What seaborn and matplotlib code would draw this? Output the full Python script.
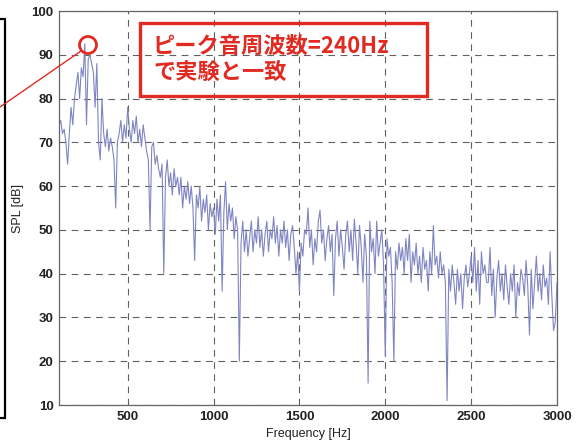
import numpy as np
import pandas as pd
import seaborn as sns
import matplotlib
matplotlib.use("Agg")
import matplotlib.pyplot as plt
from matplotlib.patches import Rectangle, Ellipse
from matplotlib.lines import Line2D

# ---- data (10 Hz steps from 100 to 3000 Hz) ----
spl_100 = [74, 75, 72, 73, 70, 65, 72, 78, 74, 80]
spl_200 = [83, 86, 80, 87, 85, 92.5, 74, 89, 90, 88]
spl_300 = [86, 78, 88, 70, 66, 80, 72, 69, 73, 68]
spl_400 = [71, 69, 66, 55, 70, 72, 75, 70, 74, 71]
spl_500 = [78, 73, 70, 75, 72, 76, 70, 73, 69, 74]
spl_600 = [71, 68, 66, 50, 69, 70, 65, 67, 64, 62]
spl_700 = [65, 40, 62, 66, 60, 63, 58, 64, 60, 62]
spl_800 = [58, 62, 55, 60, 57, 61, 56, 60, 55, 43]
spl_900 = [58, 55, 60, 52, 57, 54, 58, 50, 56, 53]
spl_1000 = [55, 49, 57, 52, 58, 36, 54, 61, 50, 56]
spl_1100 = [52, 55, 48, 53, 50, 20, 47, 52, 45, 50]
spl_1200 = [44, 48, 52, 45, 50, 47, 53, 46, 50, 44]
spl_1300 = [49, 52, 45, 50, 48, 53, 47, 51, 44, 50]
spl_1400 = [47, 52, 46, 50, 43, 49, 51, 46, 40, 45]
spl_1500 = [36, 47, 44, 50, 49, 55, 46, 50, 42, 48]
spl_1600 = [45, 52, 54.5, 47, 50, 43, 48, 51, 45, 49]
spl_1700 = [35, 48, 52, 44, 50, 46, 41, 49, 52, 45]
spl_1800 = [50, 43, 52.5, 47, 40, 51, 46, 38, 49, 44]
spl_1900 = [15, 52, 45, 48, 40, 52, 44, 47, 50, 42]
spl_2000 = [21, 48, 44, 46, 38, 20, 45, 41, 47, 43]
spl_2100 = [46, 40, 48, 43, 49, 38, 45, 42, 47, 40]
spl_2200 = [44, 38, 46, 41, 43, 36, 45, 40, 51, 42]
spl_2300 = [44, 39, 45, 40, 42, 38, 11, 41, 36, 42]
spl_2400 = [38, 33, 41, 36, 40, 32, 39, 42, 37, 40]
spl_2500 = [44, 38, 46, 36, 43, 33, 45, 40, 42, 38]
spl_2600 = [38, 46, 35, 41, 30, 39, 43, 36, 40, 34]
spl_2700 = [42, 37, 33, 40, 36, 42, 30, 38, 35, 41]
spl_2800 = [39, 35, 43, 37, 26, 41, 32, 38, 44, 36]
spl_2900 = [40, 34, 42, 37, 39, 33, 45, 35, 27, 29, 38]

spl = (spl_100 + spl_200 + spl_300 + spl_400 + spl_500 + spl_600 + spl_700 +
       spl_800 + spl_900 + spl_1000 + spl_1100 + spl_1200 + spl_1300 +
       spl_1400 + spl_1500 + spl_1600 + spl_1700 + spl_1800 + spl_1900 +
       spl_2000 + spl_2100 + spl_2200 + spl_2300 + spl_2400 + spl_2500 +
       spl_2600 + spl_2700 + spl_2800 + spl_2900)
freq = list(range(100, 100 + 10 * len(spl), 10))

x_ticks = [500, 1000, 1500, 2000, 2500, 3000]
y_ticks = [10, 20, 30, 40, 50, 60, 70, 80, 90, 100]

note_line1 = "ピーク音周波数=240Hz"
note_line2 = "で実験と一致"

# ---- plot ----
sns.set_theme(style="white")
plt.rcParams['font.family'] = ['Liberation Sans', 'Noto Sans CJK JP', 'DejaVu Sans']

fig = plt.figure(figsize=(5.77, 4.46), dpi=100)
ax = fig.add_axes([0.1023, 0.0919, 0.8630, 0.8834])

df = pd.DataFrame({"Frequency": freq, "SPL": spl})
sns.lineplot(data=df, x="Frequency", y="SPL", ax=ax, color="#7f85c2",
             linewidth=0.8, estimator=None)

ax.set_xlim(100, 3000)
ax.set_ylim(10, 100)
ax.set_xticks(x_ticks)
ax.set_yticks(y_ticks)
ax.grid(True, linestyle=(0, (6, 5)), color="#606060", linewidth=0.8)
for s in ax.spines.values():
    s.set_color("#666666")
    s.set_linewidth(0.9)
ax.tick_params(axis="both", labelsize=9.5, colors="#222222", length=0, pad=4)
for lbl in ax.get_xticklabels() + ax.get_yticklabels():
    lbl.set_fontweight("bold")
ax.set_xlabel("Frequency [Hz]", fontsize=9, color="#222222", labelpad=4)
ax.set_ylabel("SPL [dB]", fontsize=9, color="#222222", labelpad=5)

red = "#e02a22"
# annotation box
fig.patches.append(Rectangle((140 / 577, 1 - 96 / 446), 287 / 577, 73 / 446,
                             transform=fig.transFigure, fill=False,
                             edgecolor=red, linewidth=2.4))
fig.text(153 / 577, 1 - 46 / 446, note_line1, color=red, fontsize=16,
         fontweight="bold", va="center", ha="left",
         family=['Noto Sans CJK JP', 'DejaVu Sans'])
fig.text(153 / 577, 1 - 72 / 446, note_line2, color=red, fontsize=16,
         fontweight="bold", va="center", ha="left",
         family=['Noto Sans CJK JP', 'DejaVu Sans'])

# circle at the peak and leader line
fig.patches.append(Ellipse((88 / 577, 1 - 45 / 446), 17 / 577, 17 / 446,
                           transform=fig.transFigure, fill=False,
                           edgecolor=red, linewidth=2.0))
fig.lines.append(Line2D([0, 81 / 577], [1 - 107 / 446, 1 - 51 / 446],
                        transform=fig.transFigure, color=red, linewidth=1.0))

# partial black frame at left edge
fig.patches.append(Rectangle((-10 / 577, 1 - 418 / 446), 15 / 577, 399 / 446,
                             transform=fig.transFigure, fill=False,
                             edgecolor="black", linewidth=1.6))

fig.savefig("out.png", dpi=100)
